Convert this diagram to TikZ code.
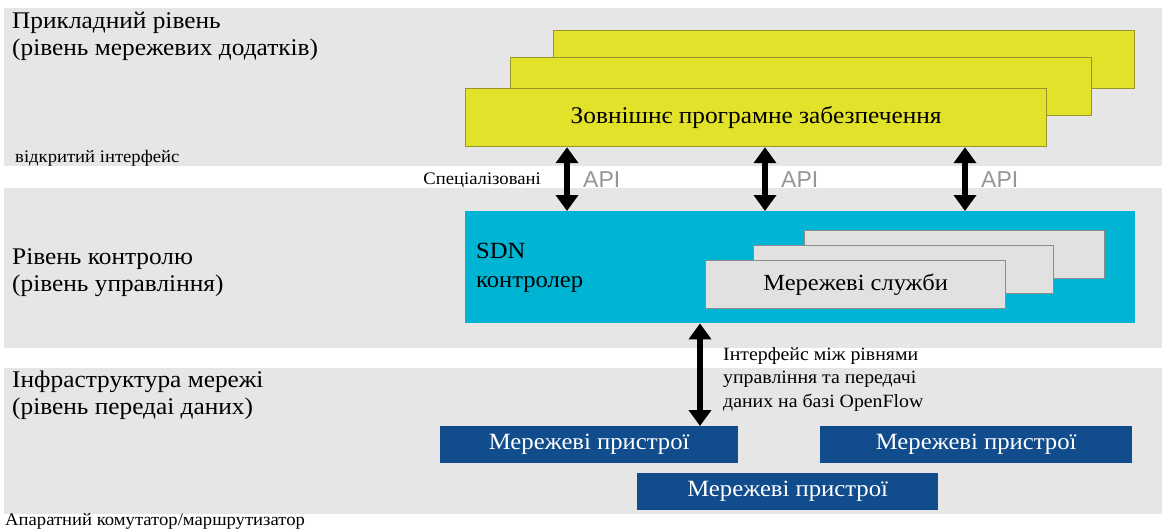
\documentclass[tikz,border=0pt]{standalone}
\usepackage{fontspec}
\setmainfont{Liberation Serif}[FakeStretch=1.06]
\newfontfamily\apifont{Liberation Sans}
\usetikzlibrary{arrows.meta}

\definecolor{bandgray}{RGB}{230,230,230}
\definecolor{appyellow}{RGB}{226,226,42}
\definecolor{appedge}{RGB}{150,150,45}
\definecolor{ctrlcyan}{RGB}{0,180,212}
\definecolor{svcgray}{RGB}{225,225,225}
\definecolor{svcedge}{RGB}{140,140,140}
\definecolor{devblue}{RGB}{17,76,140}
\definecolor{apigray}{RGB}{150,150,150}

\begin{document}
\begin{tikzpicture}
  [x=1pt,y=-1pt,
   band/.style={fill=bandgray},
   layertext/.style={anchor=west,align=left,inner sep=0pt,font=\fontsize{23.9}{27}\selectfont},
   smalltext/.style={inner sep=0pt,font=\fontsize{17.6}{20}\selectfont},
   appbox/.style={draw=appedge,fill=appyellow,line width=1.2pt,anchor=north west,
     minimum width=581pt,minimum height=58pt,inner sep=0pt},
   ctrlbox/.style={fill=ctrlcyan,anchor=north west,minimum width=670pt,minimum height=112pt},
   svcbox/.style={draw=svcedge,fill=svcgray,line width=1.2pt,anchor=north west,
     minimum width=300pt,minimum height=48pt,inner sep=0pt},
   devbox/.style={fill=devblue,text=white,anchor=north west,minimum height=37pt,inner sep=0pt,
     font=\fontsize{23.3}{26}\selectfont},
   apilabel/.style={anchor=west,inner sep=0pt,text=apigray,font=\apifont\fontsize{23}{26}\selectfont},
   dblarrow/.style={line width=6pt,{Triangle[length=16pt,width=22pt]}-{Triangle[length=16pt,width=22pt]}}]

  \useasboundingbox (0,0) rectangle (1162,530);

  % layers
  \fill[band] (4,8) rectangle (1162,166);
  \fill[band] (4,188) rectangle (1162,348);
  \fill[band] (4,368) rectangle (1162,514);

  \node[layertext] (l1) at (12,36) {Прикладний рівень\\(рівень мережевих додатків)};
  \node[layertext] (l2) at (12,273) {Рівень контролю\\(рівень управління)};
  \node[layertext] (l3) at (12,395) {Інфраструктура мережі\\(рівень передаі даних)};

  \node[smalltext,anchor=west] (open) at (15,158) {відкритий інтерфейс};
  \node[smalltext,anchor=east] (spec) at (541,180) {Спеціалізовані};
  \node[smalltext,anchor=west] (hw) at (5,521) {Апаратний комутатор/маршрутизатор};

  % applications
  \node[appbox] (app3) at (553,30) {};
  \node[appbox] (app2) at (510,57) {};
  \node[appbox,font=\fontsize{23.9}{27}\selectfont] (app1) at (465,88) {Зовнішнє програмне забезпечення};

  % controller
  \node[ctrlbox] (ctrl) at (465,211) {};
  \node[anchor=north west,align=left,inner sep=0pt,font=\fontsize{23.2}{29}\selectfont] (sdn) at (476,243) {SDN\\контролер};

  \node[svcbox] (svc3) at (804,230) {};
  \node[svcbox] (svc2) at (753,245) {};
  \node[svcbox,font=\fontsize{23.1}{26}\selectfont] (svc1) at (705,260) {Мережеві служби};

  % devices
  \node[devbox,minimum width=298pt] (dev1) at (440,426) {Мережеві пристрої};
  \node[devbox,minimum width=312pt] (dev2) at (820,426) {Мережеві пристрої};
  \node[devbox,minimum width=301pt] (dev3) at (637,473) {Мережеві пристрої};

  % API arrows
  \foreach \x [count=\i] in {567,765,965} {
    \coordinate (a\i) at (\x,0);
    \draw[dblarrow] (app1.south -| a\i) -- (ctrl.north -| a\i);
    \node[apilabel] (api\i) at (\x+16,180) {API};
  }

  % OpenFlow
  \coordinate (of) at (700,0);
  \draw[dblarrow] (ctrl.south -| of) -- (dev1.north -| of);
  \node[smalltext,anchor=west,align=left,font=\fontsize{18.7}{23.5}\selectfont] (oftext) at (723,379)
    {Інтерфейс між рівнями\\управління та передачі\\даних на базі OpenFlow};

\end{tikzpicture}
\end{document}
